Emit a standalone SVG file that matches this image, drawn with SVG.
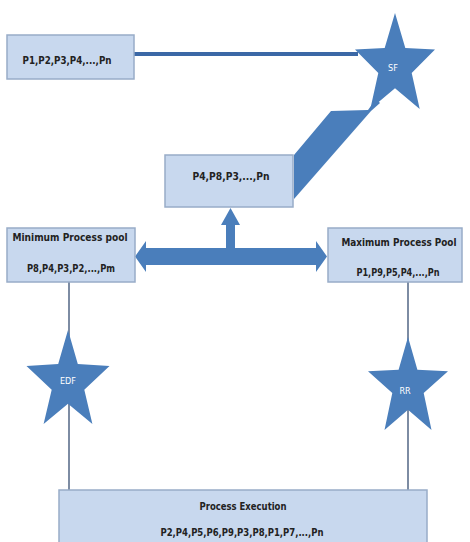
<svg xmlns="http://www.w3.org/2000/svg" width="470" height="542" viewBox="0 0 470 542">
<style>
.box{fill:#c8d8ee;stroke:#98acc8;stroke-width:1.5}
.t{font-family:"Liberation Sans Narrow","DejaVu Sans Condensed","Liberation Sans",sans-serif;font-weight:bold;fill:#222;text-anchor:middle}
.st{fill:#4a7ebb}
.sl{font-family:"Liberation Sans Narrow","DejaVu Sans Condensed","Liberation Sans",sans-serif;fill:#ffffff;text-anchor:middle;font-size:9px}
.thin{stroke:#7d8ca3;stroke-width:2;fill:none}
</style>
<rect width="470" height="542" fill="#ffffff"/>
<g id="connectors">
<line x1="134" y1="54" x2="358" y2="54" stroke="#3b68a6" stroke-width="4"/>
<polygon class="st" points="294,155 331,111 368,110 376,99 380,103 371,111 294,199"/>
<line class="thin" x1="69" y1="282" x2="69" y2="490"/>
<line class="thin" x1="408" y1="282" x2="408" y2="490"/>
<polygon class="st" points="135,256.5 146,241 146,248 226,248 226,225 221,225 230.5,208 240,225 235,225 235,248 316,248 316,241 327,256.5 316,272 316,265 146,265 146,272"/>
</g>
<g id="n-top">
<rect class="box" x="7" y="35" width="127" height="44"/>
<text class="t" x="67" y="64" font-size="11" textLength="89" lengthAdjust="spacingAndGlyphs">P1,P2,P3,P4,...,Pn</text>
</g>
<g id="n-sf">
<polygon class="st" points="395,13 405.3,48 435,49.6 411.7,72.9 419.7,109 395,88.3 370.3,109 378.3,72.9 355,49.6 384.7,48"/>
<text class="sl" x="393" y="71">SF</text>
</g>
<g id="n-mid">
<rect class="box" x="165" y="155" width="128" height="52"/>
<text class="t" x="231" y="180" font-size="11" textLength="77" lengthAdjust="spacingAndGlyphs">P4,P8,P3,...,Pn</text>
</g>
<g id="n-min">
<rect class="box" x="7" y="228" width="128" height="54"/>
<text class="t" x="70" y="241" font-size="11" textLength="115" lengthAdjust="spacingAndGlyphs">Minimum Process pool</text>
<text class="t" x="71" y="272" font-size="11" textLength="88" lengthAdjust="spacingAndGlyphs">P8,P4,P3,P2,...,Pm</text>
</g>
<g id="n-max">
<rect class="box" x="328" y="228" width="134" height="54"/>
<text class="t" x="399" y="246" font-size="11" textLength="115" lengthAdjust="spacingAndGlyphs">Maximum Process Pool</text>
<text class="t" x="398" y="276" font-size="11" textLength="83" lengthAdjust="spacingAndGlyphs">P1,P9,P5,P4,...,Pn</text>
</g>
<g id="n-edf">
<polygon class="st" points="68,330 77.8,363.9 109.5,365.9 84.3,389.7 92.4,424 68,403.8 43.6,424 51.7,389.7 26.5,365.9 58.2,363.9"/>
<text class="sl" x="68" y="384">EDF</text>
</g>
<g id="n-rr">
<polygon class="st" points="408,337 417.4,369.7 448,371.3 423.7,393 431.5,430 408,409.8 384.5,430 392.3,393 368,371.3 398.6,369.7"/>
<text class="sl" x="405" y="394">RR</text>
</g>
<g id="n-exec">
<rect class="box" x="59" y="490" width="368" height="56"/>
<text class="t" x="243" y="510" font-size="11" textLength="87" lengthAdjust="spacingAndGlyphs">Process Execution</text>
<text class="t" x="242" y="536" font-size="11" textLength="163" lengthAdjust="spacingAndGlyphs">P2,P4,P5,P6,P9,P3,P8,P1,P7,...,Pn</text>
</g>
</svg>
